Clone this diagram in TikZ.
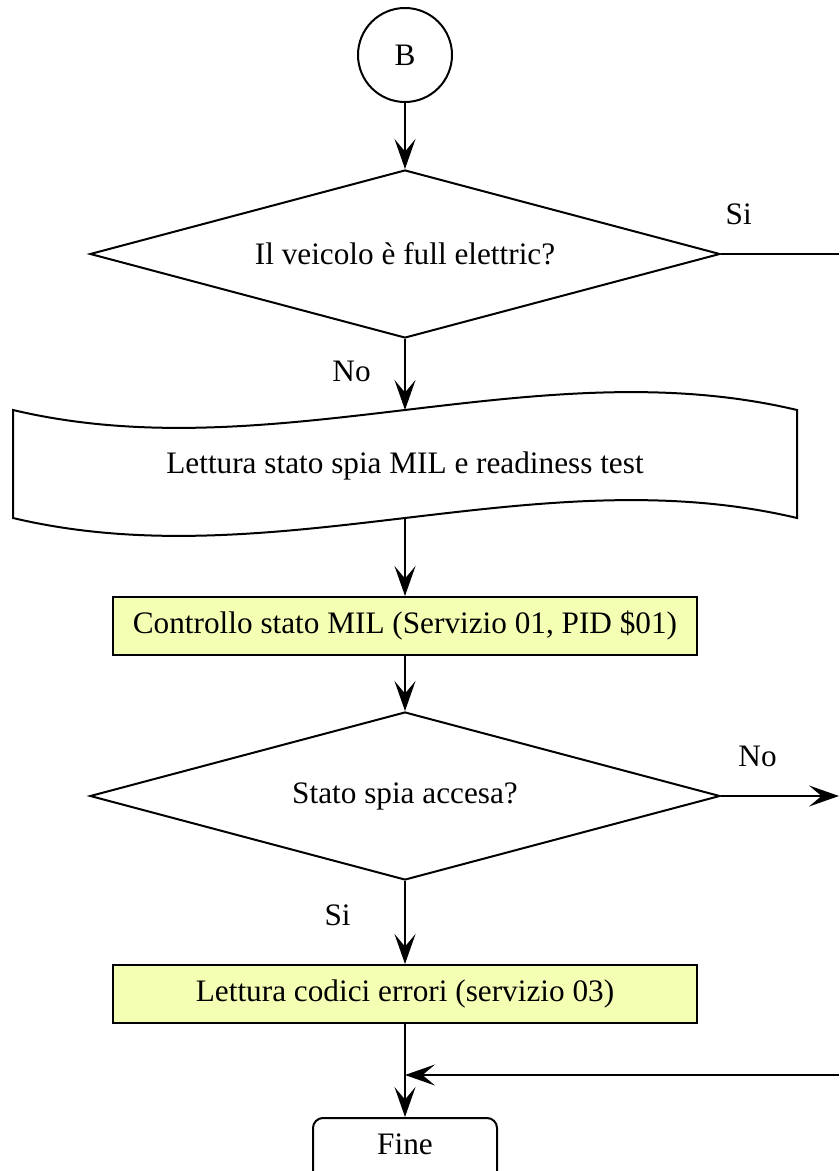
\documentclass[tikz,border=0pt]{standalone}
\usepackage{fontspec}
\setmainfont{Liberation Serif}
\usetikzlibrary{arrows.meta,shapes.geometric,positioning}
\definecolor{boxfill}{RGB}{245,255,180}

\begin{document}
\begin{tikzpicture}[x=0.4pt,y=-0.4pt,line width=0.8pt,
  every node/.style={font=\fontsize{12.5}{14}\selectfont},
  link/.style={-{Stealth[length=12pt,width=8.4pt,inset=5pt]}},
  test/.style={draw,diamond,shape aspect=3.75,inner sep=0pt,minimum width=252pt,minimum height=67.2pt},
  task/.style={draw,fill=boxfill,minimum width=233.6pt,minimum height=23.2pt,inner sep=0pt},
  term/.style={draw,rounded corners=4pt,minimum width=73.6pt,inner xsep=0pt,inner ysep=0pt,text height=14.4pt,text depth=20pt}]
  \useasboundingbox (0,0) rectangle (839,1171);
  \node[draw,circle,minimum size=37.6pt,inner sep=0pt] (B) at (405,55) {B};
  \node[test] (Q1) at (405,254) {Il veicolo è full elettric?};
  \draw (13,410) .. controls (274,472) and (536,348) .. (797,410) -- (797,518)
    .. controls (536,456) and (274,580) .. (13,518) -- cycle;
  \node (DOC) at (405,466) {Lettura stato spia MIL e readiness test};
  \coordinate (DOCN) at (405,410);
  \coordinate (DOCS) at (405,518);
  \node[task] (C1) at (405,626) {Controllo stato MIL (Servizio 01, PID \$01)};
  \node[test] (Q2) at (405,796) {Stato spia accesa?};
  \node[task] (C2) at (405,994) {Lettura codici errori (servizio 03)};
  \node[term,anchor=north] (FINE) at (405,1117) {Fine};
  \coordinate (OUT1) at (839,254);
  \coordinate (OUT2) at (839,796);
  \coordinate (OUT3) at (839,1075);
  \coordinate (JOIN) at (405,1075);

  \draw[link] (B) -- (Q1);
  \draw (Q1.east) -- node[pos=0.15,above=8pt] {Si} (OUT1);
  \draw[link] (Q1.south) -- node[pos=0.45,left=10pt] {No} (DOCN);
  \draw[link] (DOCS) -- (C1);
  \draw[link] (C1) -- (Q2);
  \draw[link] (Q2.east) -- node[pos=0.31,above=8pt] {No} (OUT2);
  \draw[link] (Q2.south) -- node[pos=0.41,left=18pt] {Si} (C2);
  \draw[link] (C2) -- (FINE);
  \draw[link] (OUT3) -- (JOIN);
\end{tikzpicture}
\end{document}
